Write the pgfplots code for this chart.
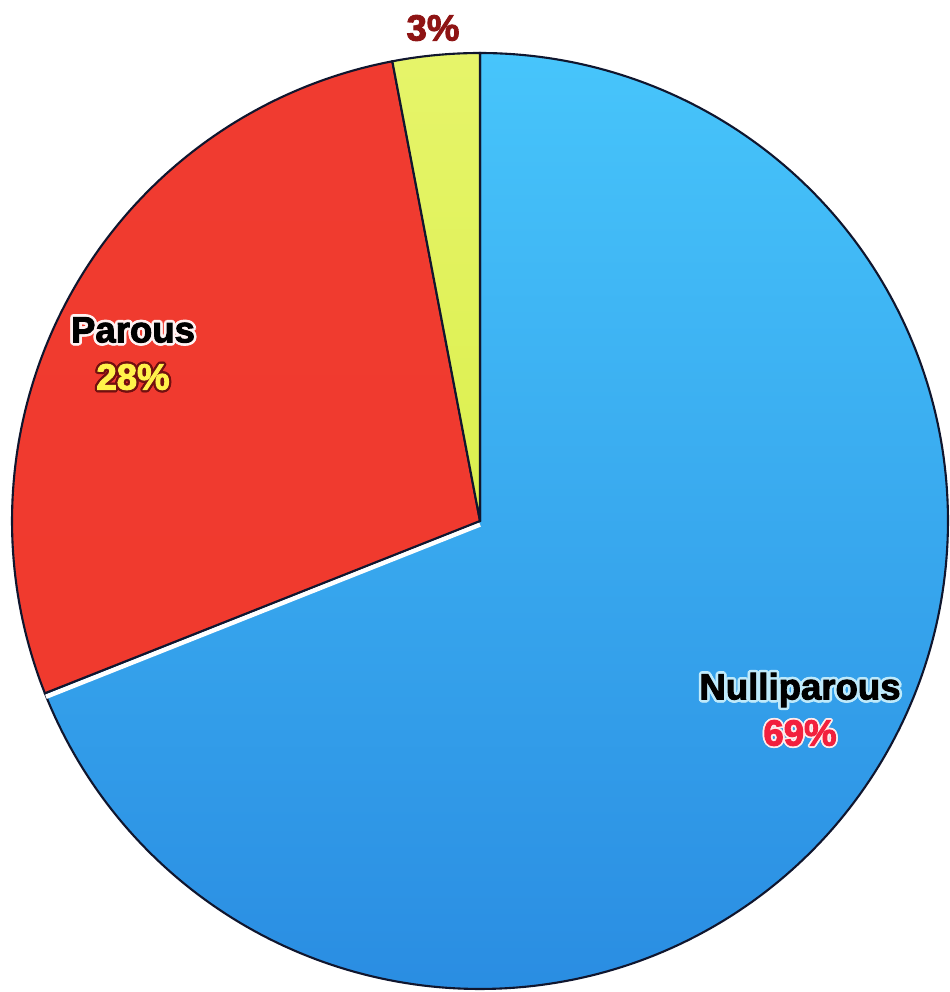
\documentclass[border=0pt]{standalone}
\usepackage{pgfplots}
\pgfplotsset{compat=1.18}
\usepackage{pgfplotstable}
\usetikzlibrary{calc}
\usepackage{fontspec}
\setmainfont{Liberation Sans}
\newfontface\heavy{Liberation Sans Bold}[FakeBold=2.6]

\definecolor{bluetop}{HTML}{47C5FB}
\definecolor{bluemid}{HTML}{36A9F1}
\definecolor{bluebot}{HTML}{2A8DE2}
\definecolor{redfill}{HTML}{F03A2E}
\definecolor{redtop}{HTML}{F03B30}
\definecolor{yelfill}{HTML}{DCF04E}
\definecolor{yeltop}{HTML}{E6F46A}
\definecolor{edge}{HTML}{10162E}
\definecolor{pctdark}{HTML}{8E1414}
\definecolor{pctyellow}{HTML}{FFF24A}
\definecolor{pctred}{HTML}{F2203E}

% shares of the three groups (percent)
\pgfplotstableread{
label        pct
Nulliparous  69
Parous       28
Other        3
}\piedata

\pgfplotstablegetelem{0}{pct}\of\piedata \let\pA\pgfplotsretval
\pgfplotstablegetelem{1}{pct}\of\piedata \let\pB\pgfplotsretval
\pgfplotstablegetelem{2}{pct}\of\piedata \let\pC\pgfplotsretval

% slice boundaries, clockwise from twelve o'clock
\pgfmathsetmacro\aA{90}
\pgfmathsetmacro\aB{\aA-3.6*\pA}
\pgfmathsetmacro\aC{\aB-3.6*\pB}
\pgfmathsetmacro\aD{\aC-3.6*\pC}

\def\cx{480}\def\cy{471}\def\rr{468}
\pgfmathsetmacro\ex{\cx+\rr*cos(\aB)}
\pgfmathsetmacro\ey{\cy+\rr*sin(\aB)}

\newcommand\labfont{\heavy\fontsize{10.4}{12}\selectfont}
% heavy label with a coloured halo ring behind it
\newcommand\halolabel[5]{%
  \pgfplotsinvokeforeach{0,30,...,330}{%
    \node[inner sep=0pt,text=#5,font=\labfont,shift={(##1:#4)}] at (axis cs:#1) {#2};}%
  \node[inner sep=0pt,text=#3,font=\labfont] at (axis cs:#1) {#2};}

\begin{document}
\begin{tikzpicture}
\begin{axis}[
  hide axis, scale only axis,
  width=9.48cm, height=9.92cm,
  xmin=0, xmax=948, ymin=0, ymax=992,
  clip=false]
\path (axis cs:0,0) rectangle (axis cs:948,992);

% Nulliparous
\addplot[draw=edge, line width=0.6pt, top color=bluetop, middle color=bluemid,
  bottom color=bluebot, domain=\aB:\aA, samples=240]
  ({\cx+\rr*cos(x)},{\cy+\rr*sin(x)}) -- (axis cs:\cx,\cy) -- cycle;
% white rim on the blue side of the lower edge
\draw[white, line width=1.3pt]
  ($(axis cs:\cx,\cy)+(0,-1.0pt)$) -- ($(axis cs:\ex,\ey)+(0.3pt,-1.0pt)$);
% Parous
\addplot[draw=edge, line width=0.6pt, top color=redtop, bottom color=redfill,
  domain=\aC:\aB, samples=120]
  ({\cx+\rr*cos(x)},{\cy+\rr*sin(x)}) -- (axis cs:\cx,\cy) -- cycle;
% remaining group
\addplot[draw=edge, line width=0.6pt, top color=yeltop, bottom color=yelfill,
  domain=\aD:\aC, samples=30]
  ({\cx+\rr*cos(x)},{\cy+\rr*sin(x)}) -- (axis cs:\cx,\cy) -- cycle;

% labels
\node[inner sep=0pt, text=pctdark, font=\labfont] at (axis cs:433,964) {3\%};
\halolabel{133,662}{Parous}{black}{0.75pt}{white!80!pink}
\halolabel{133,615}{28\%}{pctyellow}{0.65pt}{pctdark!80!black}
\halolabel{800,302}{Nulliparous}{black}{0.75pt}{white!75!cyan}
\halolabel{800,259}{69\%}{pctred}{0.5pt}{white!70!pink}
\end{axis}
\end{tikzpicture}
\end{document}
